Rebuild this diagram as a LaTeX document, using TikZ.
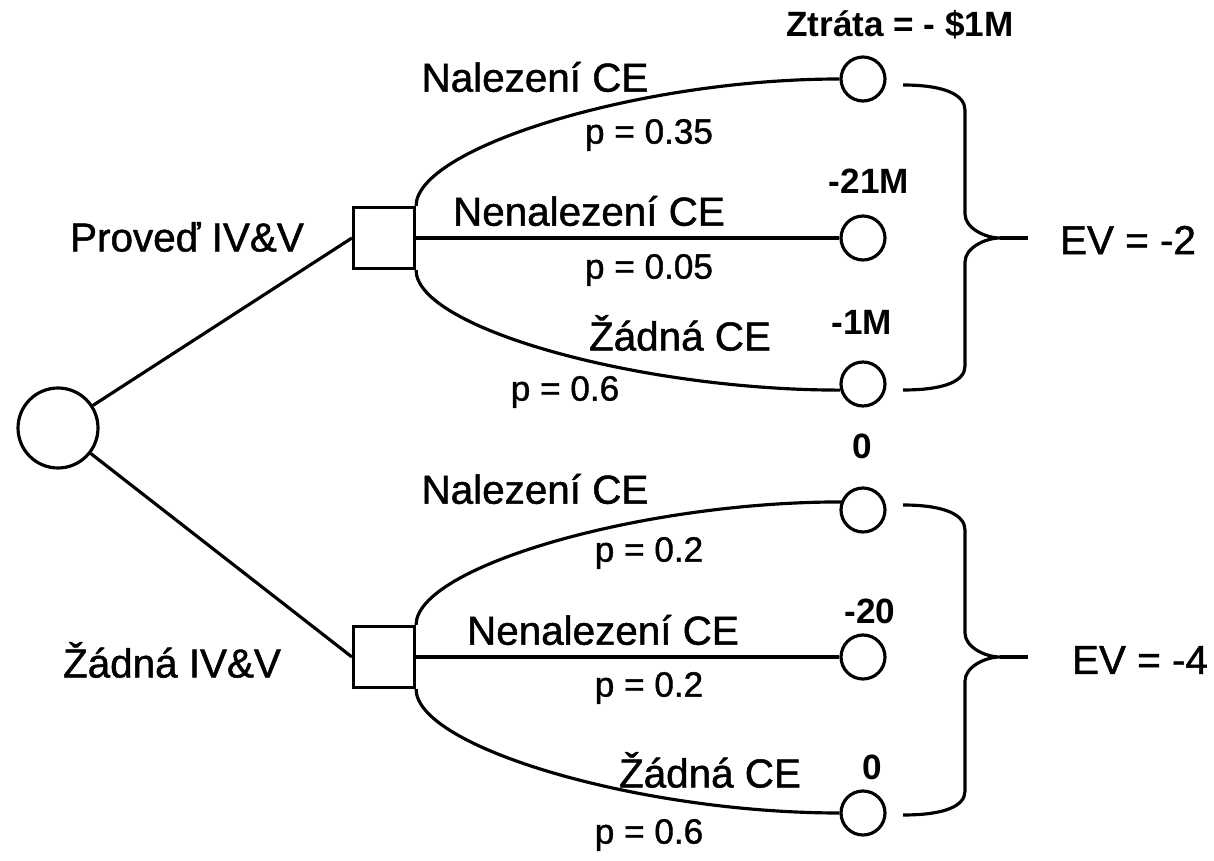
\documentclass[tikz,border=0pt]{standalone}
\usepackage{fontspec}
\setmainfont{Liberation Sans}
\newfontfamily\heavyfont[FakeBold=1.2]{Liberation Sans}
\usetikzlibrary{positioning,calc}

\begin{document}
\begin{tikzpicture}[x=0.02cm,y=-0.02cm,line width=1.8pt,
  chance/.style={draw,circle,inner sep=0pt,minimum size=0.88cm},
  decision/.style={draw,rectangle,inner sep=0pt,minimum size=1.22cm},
  lbl/.style={font=\heavyfont\fontsize{23}{27}\selectfont},
  prob/.style={font=\heavyfont\fontsize{20}{24}\selectfont},
  val/.style={font=\bfseries\fontsize{20}{24}\selectfont},
  branch/.style={line width=1.8pt}]
\useasboundingbox (0,0) rectangle (1214,861);
% kořen a rozhodovací uzly
\node[chance,minimum size=1.6cm] (root) at (58,428) {};
\node[decision] (dA) at (384,238) {};
\node[decision] (dB) at (384,657) {};
% koncové uzly
\node[chance] (a1) at (863,79) {};
\node[chance] (a2) at (863,238) {};
\node[chance] (a3) at (863,384) {};
\node[chance] (b1) at (863,510) {};
\node[chance] (b2) at (863,657) {};
\node[chance] (b3) at (863,813) {};
% větve
\draw[branch] (root) -- (dA.west);
\draw[branch] (root) -- (dB.west);
\draw[branch] (dA.north east) .. controls +(0,-58) and +(-200,0) .. (a1.west);
\draw[branch] (dA.east) -- (a2.west);
\draw[branch] (dA.south east) .. controls +(0,58) and +(-200,0) .. (a3.195);
\draw[branch] (dB.north east) .. controls +(0,-58) and +(-200,0) .. (b1.160);
\draw[branch] (dB.east) -- (b2.west);
\draw[branch] (dB.south east) .. controls +(0,58) and +(-200,0) .. (b3.west);
% složené závorky
\coordinate (tipA) at (1000,238);
\coordinate (tipB) at (1000,657);
\draw (903,85) .. controls (945,85) and (965,95) .. (965,110) -- (965,214)
  .. controls (965,228) and (985,238) .. (tipA)
  .. controls (985,238) and (965,248) .. (965,262) -- (965,366)
  .. controls (965,381) and (945,390) .. (903,390);
\draw (tipA) -- ++(28,0);
\draw (903,505) .. controls (945,505) and (965,515) .. (965,530) -- (965,633)
  .. controls (965,647) and (985,657) .. (tipB)
  .. controls (985,657) and (965,667) .. (965,681) -- (965,791)
  .. controls (965,806) and (945,815) .. (903,815);
\draw (tipB) -- ++(28,0);
% popisky
\node[val] (ztrata) at (900,25) {Ztráta = - \$1M};
\node[lbl] (tA1) at (535,77) {Nalezení CE};
\node[prob] (pA1) at (649,135) {p = 0.35};
\node[val] (vA2) at (869,181) {-21M};
\node[lbl] (tA2) at (589,211) {Nenalezení CE};
\node[prob] (pA2) at (649,270) {p = 0.05};
\node[val] (vA3) at (862,322) {-1M};
\node[lbl] (tA3) at (680,333) {Žádná CE};
\node[prob] (pA3) at (565,392) {p = 0.6};
\node[lbl] (evA) at (1128,240) {EV = -2};
\node[lbl] (opA) at (187,237) {Proveď IV\&V};
\node[val] (vB1) at (862,446) {0};
\node[lbl] (tB1) at (535,489) {Nalezení CE};
\node[prob] (pB1) at (649,553) {p = 0.2};
\node[val] (vB2) at (870,611) {-20};
\node[lbl] (tB2) at (603,630) {Nenalezení CE};
\node[prob] (pB2) at (649,688) {p = 0.2};
\node[lbl] (evB) at (1140,660) {EV = -4};
\node[lbl] (opB) at (172,660) {Žádná IV\&V};
\node[lbl] (tB3) at (710,770) {Žádná CE};
\node[val] (vB3) at (872,767) {0};
\node[prob] (pB3) at (649,835) {p = 0.6};
\end{tikzpicture}
\end{document}
